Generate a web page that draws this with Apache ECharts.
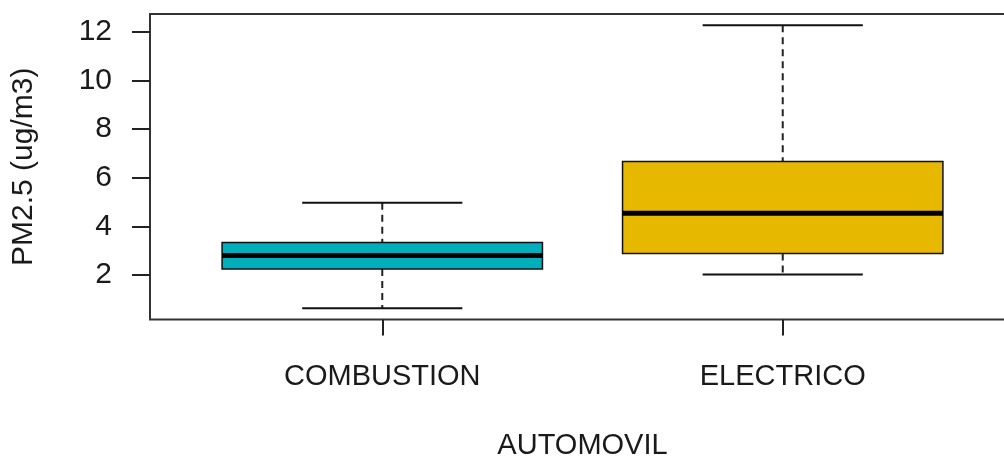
<!DOCTYPE html>
<html>
<head>
<meta charset="utf-8">
<script src="https://cdn.jsdelivr.net/npm/echarts@6/dist/echarts.min.js"></script>
<style>
  html, body { margin: 0; padding: 0; background: #ffffff; }
  #chart { width: 1004px; height: 461px; }
</style>
</head>
<body>
<div id="chart"></div>
<script>
// PM2.5 concentration by vehicle type (five-number summaries)
const categories = ['COMBUSTION', 'ELECTRICO'];
const lowerWhisker = [0.64, 2.03];
const q1 = [2.25, 2.89];
const median = [2.81, 4.54];
const q3 = [3.34, 6.67];
const upperWhisker = [4.97, 12.27];
const boxColors = ['#00AFBB', '#E7B800'];
const yTicks = [2, 4, 6, 8, 10, 12];

const FONT = '"Liberation Sans", Arial, sans-serif';
const TEXT = '#1a1a1a';

// Axis ranges padded by 4% like base R graphics
const dataMin = Math.min(...lowerWhisker);
const dataMax = Math.max(...upperWhisker);
const pad = (dataMax - dataMin) * 0.04;
const yMin = dataMin - pad;
const yMax = dataMax + pad;
const xPad = categories.length * 0.04;
const xMin = 0.5 - xPad;
const xMax = categories.length + 0.5 + xPad;

const boxData = categories.map((c, i) => [i + 1, lowerWhisker[i], q1[i], median[i], q3[i], upperWhisker[i], i]);

function renderBox(params, api) {
  const x = api.value(0);
  const lo = api.value(1), a = api.value(2), med = api.value(3), b = api.value(4), hi = api.value(5);
  const idx = api.value(6);
  const halfBox = 0.4, halfCap = 0.2;
  const pTopL = api.coord([x - halfBox, b]);
  const pBotR = api.coord([x + halfBox, a]);
  const pMedL = api.coord([x - halfBox, med]);
  const pMedR = api.coord([x + halfBox, med]);
  const pHi = api.coord([x, hi]);
  const pLo = api.coord([x, lo]);
  const pQ3 = api.coord([x, b]);
  const pQ1 = api.coord([x, a]);
  const capHiL = api.coord([x - halfCap, hi]);
  const capHiR = api.coord([x + halfCap, hi]);
  const capLoL = api.coord([x - halfCap, lo]);
  const capLoR = api.coord([x + halfCap, lo]);
  const dash = { stroke: '#222', lineWidth: 2, lineDash: [7, 5] };
  const solid = { stroke: '#111', lineWidth: 2 };
  return {
    type: 'group',
    children: [
      { type: 'line', shape: { x1: pHi[0], y1: pHi[1], x2: pQ3[0], y2: pQ3[1] }, style: dash },
      { type: 'line', shape: { x1: pQ1[0], y1: pQ1[1], x2: pLo[0], y2: pLo[1] }, style: dash },
      { type: 'line', shape: { x1: capHiL[0], y1: capHiL[1], x2: capHiR[0], y2: capHiR[1] }, style: solid },
      { type: 'line', shape: { x1: capLoL[0], y1: capLoL[1], x2: capLoR[0], y2: capLoR[1] }, style: solid },
      { type: 'rect', shape: { x: pTopL[0], y: pTopL[1], width: pBotR[0] - pTopL[0], height: pBotR[1] - pTopL[1] },
        style: { fill: boxColors[idx], stroke: '#111', lineWidth: 1.5 } },
      { type: 'line', shape: { x1: pMedL[0], y1: pMedL[1], x2: pMedR[0], y2: pMedR[1] },
        style: { stroke: '#000', lineWidth: 5 } }
    ]
  };
}

const chart = echarts.init(document.getElementById('chart'), null, { renderer: 'canvas' });
chart.setOption({
  animation: false,
  backgroundColor: '#ffffff',
  grid: {
    left: 150, right: -11, top: 14, bottom: 141.5,
    containLabel: false, outerBoundsMode: 'none',
    show: true, borderColor: '#333', borderWidth: 2, backgroundColor: 'transparent'
  },
  xAxis: {
    type: 'value', min: xMin, max: xMax,
    name: 'AUTOMOVIL', nameLocation: 'middle', nameGap: 112,
    nameTextStyle: { fontFamily: FONT, fontSize: 29, color: TEXT },
    splitLine: { show: false },
    axisLine: { show: false },
    axisTick: { show: true, customValues: [1, 2], length: 16, lineStyle: { color: '#222', width: 2 } },
    axisLabel: {
      customValues: [1, 2], margin: 43, fontFamily: FONT, fontSize: 29, color: TEXT,
      formatter: v => categories[Math.round(v) - 1]
    }
  },
  yAxis: {
    type: 'value', min: yMin, max: yMax,
    name: 'PM2.5 (ug/m3)', nameLocation: 'middle', nameGap: 111, nameRotate: 90,
    nameTextStyle: { fontFamily: FONT, fontSize: 30, color: TEXT },
    splitLine: { show: false },
    axisLine: { show: false },
    axisTick: { show: true, customValues: yTicks, length: 18, lineStyle: { color: '#222', width: 2 } },
    axisLabel: { customValues: yTicks, margin: 38, fontFamily: FONT, fontSize: 30, color: TEXT }
  },
  series: [{
    type: 'custom',
    renderItem: renderBox,
    data: boxData,
    encode: { x: 0, y: [1, 5] },
    clip: false
  }]
});
</script>
</body>
</html>
